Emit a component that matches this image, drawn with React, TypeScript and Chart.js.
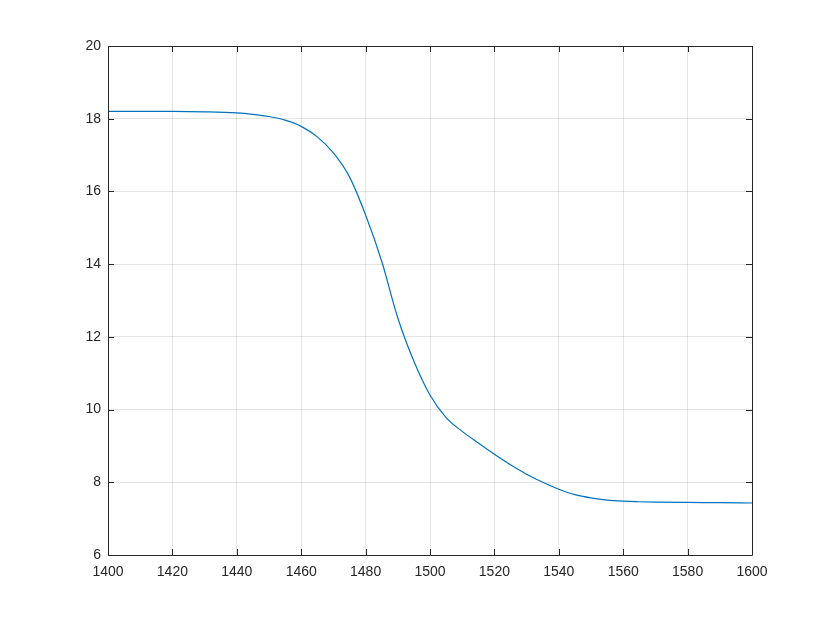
import React, { useEffect, useRef } from "react";
import { Chart, registerables } from "chart.js";

Chart.register(...registerables);

const wavelengths = [1400, 1410, 1420, 1430, 1440, 1445, 1450, 1455, 1460, 1465, 1470, 1475, 1480, 1485, 1490, 1495, 1500, 1505, 1510, 1515, 1520, 1525, 1530, 1535, 1540, 1545, 1550, 1555, 1560, 1565, 1570, 1580, 1590, 1600];
const values = [18.2, 18.2, 18.2, 18.19, 18.16, 18.12, 18.06, 17.96, 17.79, 17.5, 17.06, 16.4, 15.35, 14.08, 12.52, 11.33, 10.4, 9.78, 9.4, 9.08, 8.77, 8.48, 8.22, 8.0, 7.81, 7.66, 7.57, 7.51, 7.48, 7.465, 7.455, 7.445, 7.44, 7.43];
const xTicks = [1400, 1420, 1440, 1460, 1480, 1500, 1520, 1540, 1560, 1580, 1600];
const yTicks = [6, 8, 10, 12, 14, 16, 18, 20];

const boxPlugin = {
  id: "matlabBox",
  afterDraw(chart: any) {
    const { ctx, chartArea: a, scales } = chart;
    ctx.save();
    ctx.strokeStyle = "#262626";
    ctx.lineWidth = 1;
    ctx.beginPath();
    ctx.rect(Math.round(a.left) + 0.5, Math.round(a.top) + 0.5, Math.round(a.right - a.left), Math.round(a.bottom - a.top));
    ctx.stroke();
    const tl = 6;
    ctx.beginPath();
    xTicks.forEach((v) => {
      const x = Math.round(scales.x.getPixelForValue(v)) + 0.5;
      ctx.moveTo(x, a.bottom);
      ctx.lineTo(x, a.bottom - tl);
      ctx.moveTo(x, a.top);
      ctx.lineTo(x, a.top + tl);
    });
    yTicks.forEach((v) => {
      const y = Math.round(scales.y.getPixelForValue(v)) + 0.5;
      ctx.moveTo(a.left, y);
      ctx.lineTo(a.left + tl, y);
      ctx.moveTo(a.right, y);
      ctx.lineTo(a.right - tl, y);
    });
    ctx.stroke();
    ctx.restore();
  },
};

export default function App() {
  const ref = useRef<HTMLCanvasElement | null>(null);
  useEffect(() => {
    document.body.style.margin = "0";
    const font = { family: "Liberation Sans, Arial, Helvetica", size: 14 };
    const chart = new Chart(ref.current!, {
      type: "line",
      data: {
        datasets: [
          {
            data: wavelengths.map((x, i) => ({ x, y: values[i] })),
            borderColor: "#0072BD",
            borderWidth: 1.2,
            pointRadius: 0,
            cubicInterpolationMode: "monotone",
            fill: false,
          },
        ],
      },
      options: {
        animation: false,
        responsive: false,
        devicePixelRatio: 1,
        layout: { padding: { left: 0, right: 78, top: 46, bottom: 0 } },
        plugins: { legend: { display: false }, tooltip: { enabled: false } },
        scales: {
          x: {
            type: "linear",
            min: 1400,
            max: 1600,
            afterBuildTicks: (s: any) => { s.ticks = xTicks.map((v) => ({ value: v })); },
            afterFit: (s: any) => { s.height = 68; },
            ticks: { color: "#262626", font, padding: 9, maxRotation: 0, callback: (v: any) => String(v) },
            grid: { color: "rgba(0,0,0,0.1)", drawTicks: false },
            border: { display: false },
          },
          y: {
            type: "linear",
            min: 6,
            max: 20,
            afterBuildTicks: (s: any) => { s.ticks = yTicks.map((v) => ({ value: v })); },
            afterFit: (s: any) => { s.width = 108; },
            ticks: { color: "#262626", font, padding: 7, callback: (v: any) => String(v) },
            grid: { color: "rgba(0,0,0,0.1)", drawTicks: false },
            border: { display: false },
          },
        },
      },
      plugins: [boxPlugin],
    } as any);
    return () => chart.destroy();
  }, []);
  return <canvas ref={ref} width={830} height={623} style={{ display: "block" }} />;
}
